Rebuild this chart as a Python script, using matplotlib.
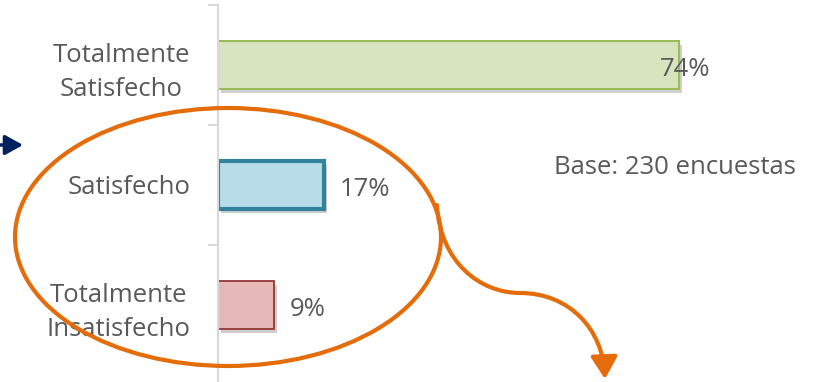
import matplotlib.pyplot as plt
from matplotlib.patches import Ellipse, FancyArrowPatch
from matplotlib.path import Path
import matplotlib.patheffects as pe

# datos de la encuesta
categorias = ['Totalmente\nSatisfecho', 'Satisfecho', 'Totalmente\nInsatisfecho']
valores = [74, 17, 9]
nota = 'Base: 230 encuestas'

colores = ['#D7E4BD', '#B7DEE8', '#E6B9B8']
bordes = ['#9BBB59', '#31849B', '#953735']
grosores = [1.5, 3.0, 1.3]

GRIS = '#595959'
NARANJA = '#E46C0A'
FS = 18.5

plt.rcParams['font.family'] = ['Open Sans', 'DejaVu Sans']

W, H = 814, 382
fig = plt.figure(figsize=(W / 100, H / 100), dpi=100)

# eje de barras: borde izquierdo en x=218 px, arriba en y=5 px
ax = fig.add_axes([218 / W, 0, 1 - 218 / W, 377 / H])
y = list(range(len(categorias)))
barras = ax.barh(y, valores, height=0.4, color=colores, edgecolor=bordes, linewidth=grosores)
for b in barras:
    b.set_path_effects([pe.SimplePatchShadow(offset=(2, -3), alpha=0.25), pe.Normal()])

ax.set_xlim(0, 95.7)
ax.set_ylim(2.6417, -0.5)

for s in ['top', 'right', 'bottom']:
    ax.spines[s].set_visible(False)
ax.spines['left'].set_color('#D9D9D9')
ax.spines['left'].set_linewidth(1.5)
ax.set_xticks([])
ax.set_yticks(y)
ax.set_yticklabels(categorias, fontsize=FS, color=GRIS, multialignment='center', linespacing=1.45)
ax.tick_params(axis='y', which='major', length=0, pad=20)
ax.set_yticks([-0.5, 0.5, 1.5, 2.5], minor=True)
ax.tick_params(axis='y', which='minor', length=7, width=1.5, color='#D9D9D9', direction='out')

# etiquetas de porcentaje
for i, v in enumerate(valores):
    dx = -19 if v > 50 else 16
    ax.annotate(f'{v}%', (v, i), xytext=(dx, -5), textcoords='offset pixels',
                ha='left', va='center', fontsize=FS, color=GRIS)

# capa superior en pixeles para las anotaciones
ov = fig.add_axes([0, 0, 1, 1])
ov.set_xlim(0, W)
ov.set_ylim(H, 0)
ov.axis('off')
ov.patch.set_alpha(0)

ov.text(675, 168, nota, ha='center', va='center', fontsize=FS, color=GRIS)

ov.add_patch(Ellipse((228, 237), 426, 258, fill=False, edgecolor=NARANJA, linewidth=3))

camino = Path([(437, 205), (440, 262), (480, 293), (520, 293),
               (570, 293), (603, 330), (605, 379)],
              [Path.MOVETO, Path.CURVE4, Path.CURVE4, Path.CURVE4,
               Path.CURVE4, Path.CURVE4, Path.CURVE4])
ov.add_patch(FancyArrowPatch(path=camino, arrowstyle='-|>,head_length=0.75,head_width=0.45',
                             mutation_scale=18, color=NARANJA, linewidth=3))

ov.annotate('', xy=(23, 145), xytext=(-6, 145),
            arrowprops=dict(arrowstyle='-|>,head_length=0.9,head_width=0.5',
                            mutation_scale=12, color='#002060', linewidth=2.5,
                            shrinkA=0, shrinkB=0))

fig.savefig('out.png', dpi=100)
